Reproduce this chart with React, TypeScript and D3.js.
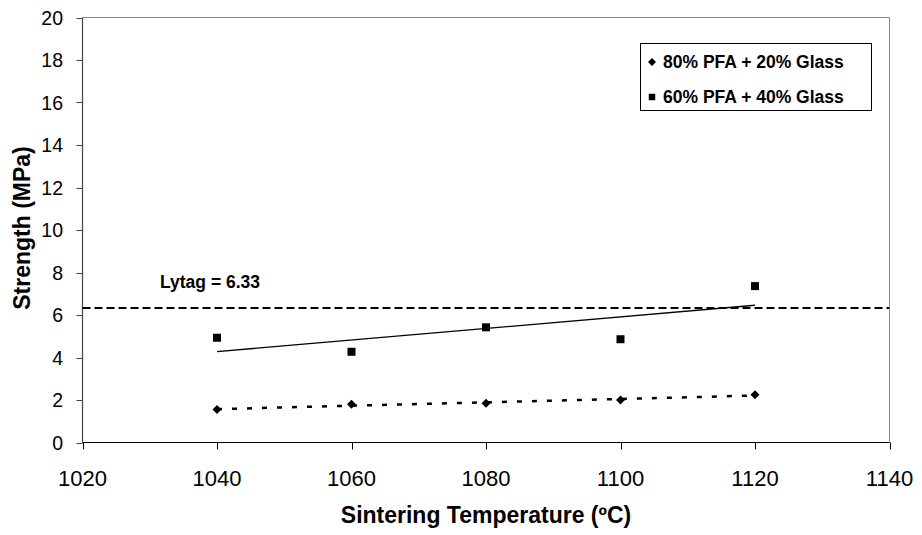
import React from "react";
import * as d3 from "d3";

// data
const temps = [1040, 1060, 1080, 1100, 1120];
const glass20 = [1.55, 1.8, 1.85, 2.0, 2.25];
const glass40 = [4.93, 4.27, 5.42, 4.86, 7.36];
const lytag = 6.33;
const xTicks = [1020, 1040, 1060, 1080, 1100, 1120, 1140];
const yTicks = [0, 2, 4, 6, 8, 10, 12, 14, 16, 18, 20];
const seriesNames = ["80% PFA + 20% Glass", "60% PFA + 40% Glass"];

const FONT = "'Liberation Sans', Arial, sans-serif";

// least squares line, like Excel's linear trendline
function linearFit(xs: number[], ys: number[]) {
  const mx = d3.mean(xs) as number;
  const my = d3.mean(ys) as number;
  const num = d3.sum(xs, (x, i) => (x - mx) * (ys[i] - my));
  const den = d3.sum(xs, (x) => (x - mx) * (x - mx));
  const slope = num / den;
  return (x: number) => my + slope * (x - mx);
}

const diamond = (r: number) => `M0,${-r}L${r},0L0,${r}L${-r},0Z`;

export default function App() {
  const width = 922;
  const height = 535;
  const x = d3.scaleLinear().domain([1020, 1140]).range([82.5, 889.5]);
  const y = d3.scaleLinear().domain([0, 20]).range([442.5, 17.5]);

  const fit20 = linearFit(temps, glass20);
  const fit40 = linearFit(temps, glass40);
  const xEnds = d3.extent(temps) as [number, number];
  const trend = (f: (v: number) => number) =>
    d3.line<number>().x((t) => x(t)).y((t) => y(f(t)))(xEnds) as string;

  const square = d3.symbol(d3.symbolSquare, 64)() as string;
  const squareSmall = d3.symbol(d3.symbolSquare, 42)() as string;

  const [x0, x1] = x.range();
  const [yb, yt] = y.range();

  return (
    <svg
      width={width}
      height={height}
      style={{ position: "absolute", left: 0, top: 0, background: "#fff" }}
      fontFamily={FONT}
    >
      {/* plot border (top & right) */}
      <path d={`M${x0},${yt}H${x1}V${yb}`} fill="none" stroke="#8a8a8a" strokeWidth={1} />

      {/* y axis */}
      <line x1={x0} x2={x0} y1={yt} y2={yb} stroke="#444" strokeWidth={1.2} />
      {yTicks.map((t) => (
        <g key={t}>
          <line x1={x0 - 6} x2={x0} y1={Math.round(y(t)) + 0.5} y2={Math.round(y(t)) + 0.5} stroke="#444" />
          <text x={63} y={y(t) + 7} textAnchor="end" fontSize={19.5}>
            {t}
          </text>
        </g>
      ))}

      {/* x axis */}
      <line x1={x0} x2={x1} y1={yb} y2={yb} stroke="#000" strokeWidth={1.2} />
      {xTicks.map((t) => (
        <g key={t}>
          <line x1={Math.round(x(t)) + 0.5} x2={Math.round(x(t)) + 0.5} y1={yb} y2={yb + 7} stroke="#000" />
          <text x={x(t)} y={486} textAnchor="middle" fontSize={22}>
            {t}
          </text>
        </g>
      ))}

      {/* axis titles */}
      <text x={(x0 + x1) / 2} y={523} textAnchor="middle" fontSize={23} fontWeight="bold">
        Sintering Temperature (ºC)
      </text>
      <text
        transform={`translate(30,228) rotate(-90)`}
        textAnchor="middle"
        fontSize={23}
        fontWeight="bold"
      >
        Strength (MPa)
      </text>

      {/* Lytag reference */}
      <line
        x1={x0}
        x2={x1}
        y1={y(lytag)}
        y2={y(lytag)}
        stroke="#000"
        strokeWidth={2}
        strokeDasharray="8,4"
      />
      <text x={160} y={288} fontSize={17.5} fontWeight="bold">
        Lytag = 6.33
      </text>

      {/* trendlines */}
      <path d={trend(fit40)} fill="none" stroke="#000" strokeWidth={1.3} />
      <path d={trend(fit20)} fill="none" stroke="#000" strokeWidth={2.5} strokeDasharray="5,10" />

      {/* points */}
      {temps.map((t, i) => (
        <path key={"d" + t} d={diamond(4.5)} transform={`translate(${x(t)},${y(glass20[i])})`} fill="#000" />
      ))}
      {temps.map((t, i) => (
        <path key={"s" + t} d={square} transform={`translate(${x(t)},${y(glass40[i])})`} fill="#000" />
      ))}

      {/* legend */}
      <g>
        <rect x={640.5} y={43.5} width={231} height={67} fill="#fff" stroke="#000" strokeWidth={1} />
        <path d={diamond(4)} transform="translate(652,62)" fill="#000" />
        <text x={663} y={68} fontSize={17.5} fontWeight="bold">
          {seriesNames[0]}
        </text>
        <path d={squareSmall} transform="translate(652,97)" fill="#000" />
        <text x={663} y={103} fontSize={17.5} fontWeight="bold">
          {seriesNames[1]}
        </text>
      </g>
    </svg>
  );
}
